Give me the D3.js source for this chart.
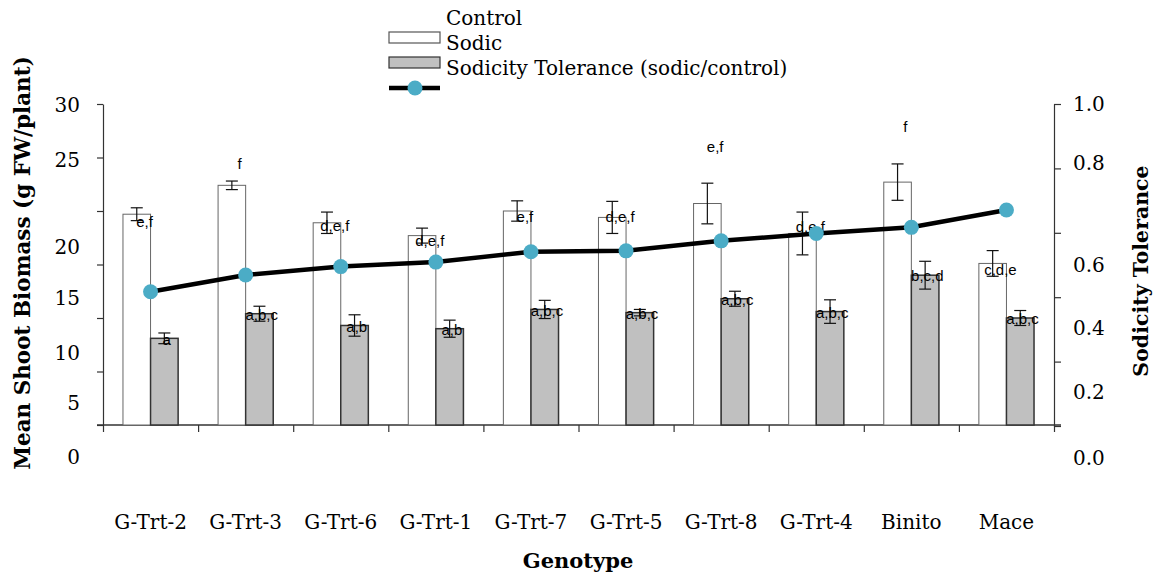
<!DOCTYPE html>
<html>
<head>
<meta charset="utf-8">
<script src="https://cdn.jsdelivr.net/npm/d3@7"></script>
<style>
  body { margin: 0; background: #fff; }
  svg { display: block; }
</style>
</head>
<body>
<div id="app"></div>
<script>
const genotypes = ["G-Trt-2", "G-Trt-3", "G-Trt-6", "G-Trt-1", "G-Trt-7", "G-Trt-5", "G-Trt-8", "G-Trt-4", "Binito", "Mace"];
const control = [19.7, 22.4, 18.9, 17.7, 20.0, 19.4, 20.7, 17.9, 22.7, 15.1];
const controlErr = [0.6, 0.4, 1.0, 0.7, 0.95, 1.5, 1.9, 2.0, 1.7, 1.2];
const sodic = [8.1, 10.4, 9.3, 9.0, 10.8, 10.5, 11.8, 10.6, 14.0, 10.0];
const sodicErr = [0.5, 0.7, 1.0, 0.8, 0.85, 0.3, 0.7, 1.1, 1.3, 0.7];
const tolerance = [0.417, 0.469, 0.495, 0.509, 0.541, 0.544, 0.575, 0.598, 0.617, 0.671];
const controlLetters = ["e,f", "f", "d,e,f", "d,e,f", "e,f", "d,e,f", "e,f", "d,e,f", "f", "c,d,e"];
const sodicLetters = ["a", "a,b,c", "a,b", "a,b", "a,b,c", "a,b,c", "a,b,c", "a,b,c", "b,c,d", "a,b,c"];
// height (g FW) where each control letter group sits
const controlLetterAt = [19.0, 24.4, 18.6, 17.2, 19.5, 19.5, 26.0, 18.5, 27.9, 14.5];
const leftTicks = [0, 5, 10, 15, 20, 25, 30];
const rightTicks = [0, 0.2, 0.4, 0.6, 0.8, 1.0];

const width = 1157;
const height = 576;
const serif = "'DejaVu Serif', serif";
const sans = "'Liberation Sans', Arial, sans-serif";

const svg = d3.select('#app')
  .append('svg')
  .attr('width', width)
  .attr('height', height)

const plot = { left: 103, right: 1054, top: 104, bottom: 425 };

const x = d3.scaleBand()
  .domain(genotypes)
  .range([plot.left, plot.right])
  .paddingInner(0.42)
  .paddingOuter(0.21)

const half = x.bandwidth() / 2;

const yL = d3.scaleLinear().domain([0, 30]).range([plot.bottom, plot.top]);
const yR = d3.scaleLinear().domain([0, 1]).range([plot.bottom + 1, plot.top]);

// tick labels in the figure are set off from their tick marks
const leftLabelY = d3.scaleLinear().domain(leftTicks).range([457, 403, 353, 298, 247, 160, 105]);
const rightLabelY = d3.scaleLinear().domain(rightTicks).range([458, 392, 328, 265, 163, 104]);

const rows = genotypes.map((g, i) => ({
  g, control: control[i], cErr: controlErr[i], sodic: sodic[i], sErr: sodicErr[i],
  tol: tolerance[i], cLet: controlLetters[i], sLet: sodicLetters[i], cAt: controlLetterAt[i]
}));

// axes
const axisColor = '#333';
const gl = svg.append('g')
  .attr('transform', `translate(${plot.left},0)`)
  .call(d3.axisLeft(yL).tickValues(leftTicks).tickFormat('').tickSize(6).tickSizeOuter(0))
gl.selectAll('path,line').attr('stroke', axisColor).attr('stroke-width', 1.2)

const gr = svg.append('g')
  .attr('transform', `translate(${plot.right},0)`)
  .call(d3.axisRight(yR).tickValues(rightTicks).tickFormat('').tickSize(7).tickSizeOuter(0))
gr.selectAll('path,line').attr('stroke', axisColor).attr('stroke-width', 1.2)

const xb = d3.scaleLinear().domain([0, genotypes.length]).range([plot.left, plot.right]);
const gb = svg.append('g')
  .attr('transform', `translate(0,${plot.bottom})`)
  .call(d3.axisBottom(xb).tickValues(d3.range(genotypes.length + 1)).tickFormat('').tickSize(7).tickSizeOuter(0))
gb.selectAll('line').attr('stroke', axisColor).attr('stroke-width', 1.2)
gb.select('path').remove()
gb.append('line')
  .attr('x1', plot.left - 6).attr('x2', plot.right + 7)
  .attr('stroke', axisColor).attr('stroke-width', 1.4)

svg.append('g').selectAll('text')
  .data(leftTicks)
  .enter().append('text')
  .attr('x', 80)
  .attr('y', d => leftLabelY(d))
  .attr('dy', '0.35em')
  .attr('text-anchor', 'end')
  .style('font', `20px ${serif}`)
  .text(d => d)

svg.append('g').selectAll('text')
  .data(rightTicks)
  .enter().append('text')
  .attr('x', 1073)
  .attr('y', d => rightLabelY(d))
  .attr('dy', '0.35em')
  .style('font', `20px ${serif}`)
  .text(d => d.toFixed(1))

svg.append('g').selectAll('text')
  .data(genotypes)
  .enter().append('text')
  .attr('x', d => x(d) + half)
  .attr('y', 529)
  .attr('text-anchor', 'middle')
  .style('font', `20px ${serif}`)
  .text(d => d)

// axis titles
svg.append('text')
  .attr('transform', 'translate(30,263) rotate(-90)')
  .attr('text-anchor', 'middle')
  .style('font', `bold 21.5px ${serif}`)
  .text('Mean Shoot Biomass (g FW/plant)')

svg.append('text')
  .attr('transform', 'translate(1148,271) rotate(-90)')
  .attr('text-anchor', 'middle')
  .style('font', `bold 20.5px ${serif}`)
  .text('Sodicity Tolerance')

svg.append('text')
  .attr('x', 578)
  .attr('y', 568)
  .attr('text-anchor', 'middle')
  .style('font', `bold 21px ${serif}`)
  .text('Genotype')

// bars
const bars = svg.append('g');
bars.selectAll('.ctrl')
  .data(rows)
  .enter().append('rect')
  .attr('class', 'ctrl')
  .attr('x', d => x(d.g))
  .attr('y', d => yL(d.control))
  .attr('width', half)
  .attr('height', d => yL(0) - yL(d.control))
  .attr('fill', '#fff')
  .attr('stroke', '#666')
  .attr('stroke-width', 1)

bars.selectAll('.sod')
  .data(rows)
  .enter().append('rect')
  .attr('class', 'sod')
  .attr('x', d => x(d.g) + half)
  .attr('y', d => yL(d.sodic))
  .attr('width', half)
  .attr('height', d => yL(0) - yL(d.sodic))
  .attr('fill', '#c0c0c0')
  .attr('stroke', '#333')
  .attr('stroke-width', 1.5)

// error bars
function errBars(sel, cx, val, err) {
  const g = sel.append('g').attr('stroke', '#111').attr('stroke-width', 1.2);
  g.selectAll('.v').data(rows).enter().append('line')
    .attr('x1', cx).attr('x2', cx)
    .attr('y1', d => yL(val(d) + err(d))).attr('y2', d => yL(val(d) - err(d)))
  g.selectAll('.t').data(rows).enter().append('line')
    .attr('x1', d => cx(d) - 6).attr('x2', d => cx(d) + 6)
    .attr('y1', d => yL(val(d) + err(d))).attr('y2', d => yL(val(d) + err(d)))
  g.selectAll('.b').data(rows).enter().append('line')
    .attr('x1', d => cx(d) - 6).attr('x2', d => cx(d) + 6)
    .attr('y1', d => yL(val(d) - err(d))).attr('y2', d => yL(val(d) - err(d)))
}
errBars(svg, d => x(d.g) + half / 2, d => d.control, d => d.cErr);
errBars(svg, d => x(d.g) + half * 1.5, d => d.sodic, d => d.sErr);

// letters
svg.append('g').selectAll('text')
  .data(rows)
  .enter().append('text')
  .attr('x', d => x(d.g) + half - 6)
  .attr('y', d => yL(d.cAt))
  .attr('dy', '0.35em')
  .attr('text-anchor', 'middle')
  .style('font', `15px ${sans}`)
  .text(d => d.cLet)

svg.append('g').selectAll('text')
  .data(rows)
  .enter().append('text')
  .attr('x', d => x(d.g) + half + 16)
  .attr('y', d => yL(d.sodic) + 1)
  .attr('dy', '0.35em')
  .attr('text-anchor', 'middle')
  .style('font', `15px ${sans}`)
  .text(d => d.sLet)

// tolerance line
const line = d3.line()
  .x(d => x(d.g) + half)
  .y(d => yR(d.tol))

svg.append('path')
  .datum(rows)
  .attr('d', line)
  .attr('fill', 'none')
  .attr('stroke', '#000')
  .attr('stroke-width', 4.5)

svg.append('g').selectAll('circle')
  .data(rows)
  .enter().append('circle')
  .attr('cx', d => x(d.g) + half)
  .attr('cy', d => yR(d.tol))
  .attr('r', 7.5)
  .attr('fill', '#4bacc6')

// legend
const legend = svg.append('g');
const legItems = ['Control', 'Sodic', 'Sodicity Tolerance (sodic/control)'];
legend.selectAll('text')
  .data(legItems)
  .enter().append('text')
  .attr('x', 446)
  .attr('y', (d, i) => 25 + i * 25)
  .style('font', `20px ${serif}`)
  .text(d => d)

legend.append('rect')
  .attr('x', 389).attr('y', 32).attr('width', 51).attr('height', 11)
  .attr('fill', '#fff').attr('stroke', '#555').attr('stroke-width', 1.2)
legend.append('rect')
  .attr('x', 389).attr('y', 57).attr('width', 51).attr('height', 11)
  .attr('fill', '#c0c0c0').attr('stroke', '#333').attr('stroke-width', 1.2)
legend.append('line')
  .attr('x1', 389).attr('x2', 440).attr('y1', 88).attr('y2', 88)
  .attr('stroke', '#000').attr('stroke-width', 4.5)
legend.append('circle')
  .attr('cx', 415).attr('cy', 88).attr('r', 7.5)
  .attr('fill', '#4bacc6')
</script>
</body>
</html>
